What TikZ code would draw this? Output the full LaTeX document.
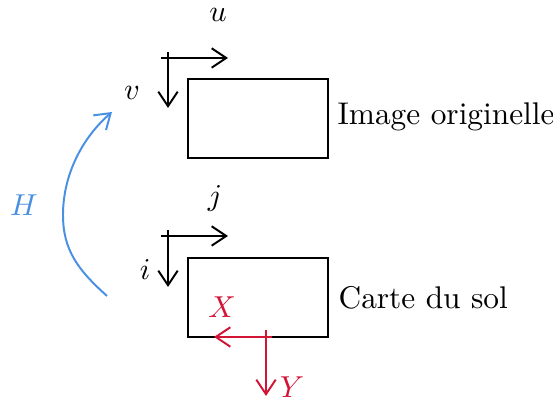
\documentclass[tikz,border=0pt]{standalone}
\usetikzlibrary{arrows.meta}
\definecolor{myred}{RGB}{210,20,55}
\definecolor{myblue}{RGB}{74,144,226}
\begin{document}
\begin{tikzpicture}[x=0.33pt,y=-0.33pt,
  ln/.style={line width=0.65pt},
  ax/.style={ln,-{Straight Barb[length=4.8pt,width=6.4pt,line width=0.65pt]}},
  box/.style={draw,ln,minimum width=46pt,minimum height=26pt,inner sep=0pt},
  lab/.style={inner sep=0pt,font=\fontsize{10.35pt}{12pt}\selectfont}]
\useasboundingbox (0,0) rectangle (553,403);
% rectangles
\node[box] (img) at (258,118.5) {};
\node[box] (map) at (258,297.5) {};
\node[lab,anchor=west] (imgl) at (337,117) {Image originelle};
\node[lab,anchor=west] (mapl) at (338,298) {Carte du sol};
% top axes
\coordinate (a1) at (161,58); \coordinate (a2) at (228,58);
\coordinate (b1) at (168,52); \coordinate (b2) at (168,108);
\draw[ax] (a1) -- (a2);
\draw[ax] (b1) -- (b2);
\node[lab] (u) at (218,15) {$u$};
\node[lab] (v) at (132,93) {$v$};
% bottom axes
\coordinate (c1) at (161,236); \coordinate (c2) at (228,236);
\coordinate (d1) at (168,230); \coordinate (d2) at (168,287);
\draw[ax] (c1) -- (c2);
\draw[ax] (d1) -- (d2);
\node[lab] (j) at (215,198) {$j$};
\node[lab] (i) at (145,270) {$i$};
% red axes
\coordinate (e1) at (272,337); \coordinate (e2) at (214,337);
\coordinate (f1) at (266,330); \coordinate (f2) at (266,396);
\draw[ax,myred] (e1) -- (e2);
\draw[ax,myred] (f1) -- (f2);
\node[lab,myred] (X) at (222,307) {$X$};
\node[lab,myred] (Y) at (292,387) {$Y$};
% H arrow
\coordinate (h1) at (107,296); \coordinate (hm) at (63,215); \coordinate (h2) at (112,112);
\draw[ax,myblue] (h1) .. controls (78,270) and (63,250) .. (hm) .. controls (63,175) and (82,138) .. (h2);
\node[lab,myblue] (H) at (24,205) {$H$};
\end{tikzpicture}
\end{document}
